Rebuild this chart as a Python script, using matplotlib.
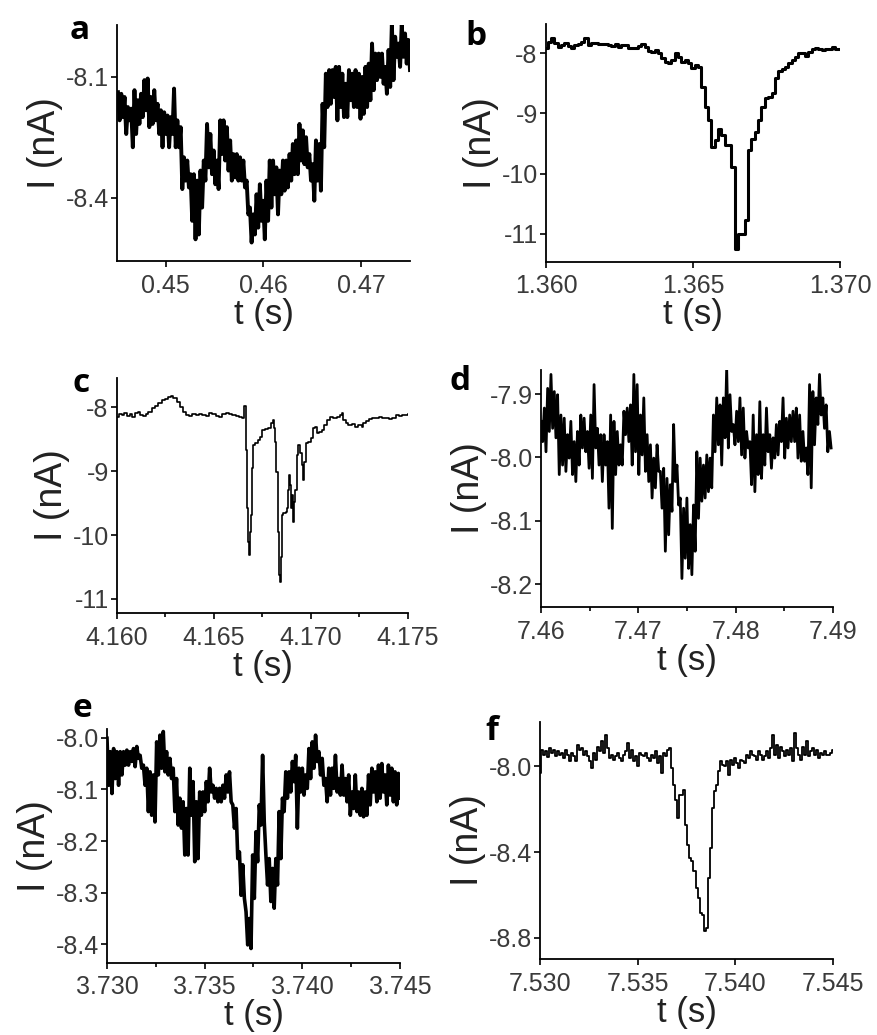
import numpy as np
import matplotlib
matplotlib.use('Agg')
import matplotlib.pyplot as plt
from matplotlib.ticker import MultipleLocator

plt.rcParams['font.family'] = ['Liberation Sans', 'DejaVu Sans']
plt.rcParams['axes.unicode_minus'] = False

# ---- panel a : 0.445 - 0.475 s, noisy trace (alternating upper / lower excursions)
I_a = [-8.138,-8.208, -8.142,-8.200, -8.150,-8.242, -8.175,-8.208, -8.179,-8.275,
       -8.133,-8.242, -8.158,-8.217, -8.142,-8.200, -8.108,-8.183, -8.104,-8.225,
       -8.150,-8.217, -8.133,-8.208, -8.167,-8.242, -8.183,-8.275, -8.188,-8.242,
       -8.196,-8.275, -8.200,-8.242, -8.129,-8.275, -8.208,-8.275, -8.225,-8.379,
       -8.300,-8.358, -8.308,-8.375, -8.342,-8.458, -8.342,-8.504, -8.358,-8.492,
       -8.333,-8.425, -8.308,-8.358, -8.217,-8.325, -8.242,-8.342, -8.283,-8.367,
       -8.308,-8.379, -8.208,-8.292, -8.208,-8.308, -8.225,-8.333, -8.258,-8.358,
       -8.292,-8.350, -8.292,-8.358, -8.300,-8.358, -8.308,-8.375, -8.358,-8.442,
       -8.425,-8.512, -8.442,-8.492, -8.392,-8.475, -8.367,-8.458, -8.408,-8.504,
       -8.358,-8.458, -8.308,-8.425, -8.308,-8.392, -8.325,-8.442, -8.333,-8.392,
       -8.308,-8.383, -8.308,-8.375, -8.292,-8.358, -8.267,-8.342, -8.258,-8.342,
       -8.217,-8.308, -8.233,-8.317, -8.250,-8.325, -8.292,-8.358, -8.317,-8.408,
       -8.258,-8.358, -8.267,-8.383, -8.167,-8.275, -8.092,-8.175, -8.083,-8.167,
       -8.083,-8.150, -8.075,-8.208, -8.075,-8.175, -8.092,-8.200, -8.117,-8.200,
       -8.083,-8.158, -8.092,-8.175, -8.083,-8.175, -8.092,-8.204, -8.100,-8.192,
       -8.075,-8.175, -8.067,-8.158, -8.017,-8.133, -8.042,-8.108, -8.042,-8.100,
       -8.042,-8.117, -8.075,-8.142, -8.033,-8.125, -7.967,-8.108, -8.000,-8.050,
       -8.017,-8.075, -7.967,-8.050, -7.992,-8.067, -8.008,-8.083]
t_a = np.linspace(0.4451, 0.4750, len(I_a))

# ---- panel b : 1.360 - 1.370 s
I_b = [-7.917, -7.806, -7.750, -7.833, -7.889, -7.861, -7.822, -7.878, -7.917, -7.861,
       -7.844, -7.806, -7.750, -7.861, -7.822, -7.833, -7.844, -7.844, -7.844, -7.861,
       -7.878, -7.844, -7.900, -7.861, -7.861, -7.917, -7.917, -7.917, -7.878, -7.844,
       -7.900, -7.956, -7.972, -7.944, -8.000, -8.083, -8.139, -8.167, -8.111, -8.000,
       -8.056, -8.139, -8.111, -8.167, -8.250, -8.194, -8.222, -8.556, -8.889, -9.111,
       -9.556, -9.444, -9.250, -9.361, -9.528, -9.528, -9.889, -11.250, -11.000, -11.000,
       -10.778, -9.611, -9.417, -9.306, -9.111, -8.889, -8.750, -8.722, -8.667, -8.417,
       -8.289, -8.267, -8.222, -8.167, -8.111, -8.056, -8.000, -8.000, -8.044, -7.972,
       -7.933, -7.917, -7.933, -7.944, -7.933, -7.933, -7.900, -7.933, -7.933]
t_b = np.linspace(1.3600, 1.3700, len(I_b))

# ---- panel c : 4.160 - 4.175 s (two deep blockades)
t_c = [4.16000, 4.16010, 4.16024, 4.16038, 4.16052, 4.16065, 4.16079, 4.16093, 4.16107, 4.16120,
       4.16134, 4.16148, 4.16161, 4.16179, 4.16196, 4.16213, 4.16230, 4.16247, 4.16265, 4.16278,
       4.16290, 4.16308, 4.16325, 4.16342, 4.16354, 4.16371, 4.16388, 4.16405, 4.16423, 4.16440,
       4.16457, 4.16474, 4.16491, 4.16509, 4.16526, 4.16543, 4.16560, 4.16577, 4.16594, 4.16612,
       4.16629, 4.16646, 4.16653, 4.16656, 4.16663, 4.16670, 4.16673, 4.16680, 4.16685, 4.16691,
       4.16694, 4.16701, 4.16711, 4.16725, 4.16735, 4.16746, 4.16763, 4.16780, 4.16794, 4.16802,
       4.16807, 4.16814, 4.16821, 4.16828, 4.16833, 4.16837, 4.16840, 4.16844, 4.16849, 4.16857,
       4.16869, 4.16876, 4.16880, 4.16885, 4.16890, 4.16897, 4.16900, 4.16907, 4.16911, 4.16917,
       4.16926, 4.16935, 4.16943, 4.16952, 4.16957, 4.16962, 4.16972, 4.16986, 4.17000, 4.17012,
       4.17020, 4.17029, 4.17041, 4.17055, 4.17069, 4.17081, 4.17098, 4.17115, 4.17132, 4.17149,
       4.17158, 4.17167, 4.17179, 4.17192, 4.17209, 4.17227, 4.17244, 4.17261, 4.17270, 4.17282,
       4.17299, 4.17316, 4.17333, 4.17350, 4.17368, 4.17385, 4.17402, 4.17419, 4.17437, 4.17453,
       4.17471, 4.17488, 4.17500]
I_c = [-8.146, -8.110, -8.120, -8.094, -8.131, -8.110, -8.146, -8.094, -8.068, -8.120,
       -8.131, -8.110, -8.068, -8.016, -7.974, -7.937, -7.885, -7.869, -7.833, -7.817,
       -7.859, -7.911, -7.990, -8.068, -8.120, -8.131, -8.110, -8.120, -8.110, -8.120,
       -8.131, -8.094, -8.110, -8.131, -8.146, -8.110, -8.094, -8.110, -8.120, -8.131,
       -8.146, -8.162, -8.042, -7.974, -8.668, -9.582, -10.104, -10.313, -9.948, -9.687,
       -8.956, -8.590, -8.564, -8.512, -8.460, -8.355, -8.339, -8.329, -8.251, -8.198,
       -8.329, -8.538, -9.008, -9.948, -10.209, -10.627, -10.731, -10.339, -9.687, -9.661,
       -9.634, -9.582, -9.295, -9.060, -9.217, -9.582, -9.373, -9.791, -9.478, -9.295,
       -8.747, -8.590, -8.721, -8.903, -9.138, -8.851, -8.564, -8.538, -8.486, -8.329,
       -8.303, -8.407, -8.381, -8.355, -8.277, -8.198, -8.146, -8.162, -8.146, -8.120,
       -8.094, -8.198, -8.251, -8.277, -8.266, -8.303, -8.277, -8.303, -8.251, -8.214,
       -8.183, -8.162, -8.162, -8.146, -8.172, -8.162, -8.183, -8.172, -8.120, -8.131,
       -8.120, -8.120, -8.110]

# ---- panel d : 7.46 - 7.49 s
I_d = [-7.943,-7.975, -7.922,-7.991, -7.891,-7.959, -7.869,-7.954, -7.896,-7.969,
       -7.901,-8.027, -7.933,-8.012, -7.938,-8.022, -7.964,-8.001, -7.943,-8.027,
       -7.975,-8.038, -7.959,-8.012, -7.933,-7.985, -7.938,-7.991, -7.959,-8.017,
       -7.933,-8.033, -7.885,-7.985, -7.954,-8.012, -7.964,-8.038, -7.964,-8.012,
       -7.975,-8.080, -7.933,-8.112, -7.943,-8.027, -7.959,-8.012, -7.980,-8.012,
       -7.927,-7.964, -7.922,-7.975, -7.917,-8.012, -7.869,-7.991, -7.885,-8.027,
       -7.933,-7.996, -7.906,-8.022, -7.964,-8.038, -7.980,-8.064, -8.001,-8.048,
       -7.980,-8.022, -8.022,-8.080, -8.017,-8.148, -8.033,-8.122, -8.043,-8.085,
       -7.948,-8.038, -8.012,-8.075, -8.064,-8.191, -8.080,-8.159, -8.064,-8.175,
       -8.106,-8.185, -8.075,-8.148, -7.991,-8.096, -8.001,-8.069, -8.012,-8.064,
       -7.996,-8.054, -8.001,-8.048, -7.933,-7.991, -7.906,-7.980, -7.917,-8.012,
       -7.906,-7.969, -7.859,-7.985, -7.901,-7.959, -7.948,-7.980, -7.927,-7.975,
       -7.906,-7.996, -7.922,-8.001, -7.959,-7.985, -7.975,-8.043, -7.933,-8.054,
       -7.964,-8.027, -7.912,-8.033, -7.964,-8.012, -7.922,-7.991, -7.964,-8.017,
       -7.969,-8.001, -7.948,-7.996, -7.943,-7.975, -7.906,-8.001, -7.938,-7.985,
       -7.933,-7.975, -7.927,-7.975, -7.922,-8.001, -7.933,-8.006, -7.959,-8.006,
       -7.985,-8.027, -7.885,-8.048, -7.896,-7.980, -7.906,-7.948, -7.869,-7.933,
       -7.906,-7.954, -7.917,-7.991, -7.959,-7.985]
t_d = np.linspace(7.4600, 7.4898, len(I_d))

# ---- panel e : 3.730 - 3.745 s
I_e = [-8.001,-8.092, -8.027,-8.108, -8.021,-8.079, -8.027,-8.092, -8.027,-8.072,
       -8.027,-8.053, -8.024,-8.053, -8.027,-8.046, -8.021,-8.056, -8.017,-8.040,
       -8.034,-8.059, -8.053,-8.092, -8.059,-8.143, -8.066,-8.150, -8.072,-8.163,
       -8.008,-8.072, -7.995,-8.059, -7.988,-8.066, -8.027,-8.072, -8.040,-8.079,
       -8.059,-8.143, -8.079,-8.169, -8.117,-8.175, -8.124,-8.227, -8.137,-8.227,
       -8.059,-8.150, -8.085,-8.240, -8.124,-8.234, -8.105,-8.150, -8.105,-8.143,
       -8.085,-8.124, -8.059,-8.105, -8.092,-8.117, -8.098,-8.124, -8.098,-8.124,
       -8.092,-8.117, -8.072,-8.105, -8.066,-8.124, -8.130,-8.175, -8.137,-8.234,
       -8.221,-8.305, -8.246,-8.311, -8.337,-8.401, -8.350,-8.408, -8.227,-8.311,
       -8.182,-8.240, -8.130,-8.169, -8.034,-8.163, -8.227,-8.285, -8.234,-8.317,
       -8.253,-8.330, -8.234,-8.285, -8.143,-8.234, -8.117,-8.143, -8.066,-8.117,
       -8.066,-8.105, -8.046,-8.085, -8.034,-8.175, -8.059,-8.105, -8.059,-8.111,
       -8.072,-8.098, -8.021,-8.079, -8.008,-8.059, -7.995,-8.046, -8.027,-8.072,
       -8.040,-8.092, -8.079,-8.124, -8.059,-8.111, -8.059,-8.098, -8.034,-8.105,
       -8.079,-8.111, -8.053,-8.111, -8.079,-8.124, -8.072,-8.150, -8.105,-8.137,
       -8.072,-8.143, -8.105,-8.150, -8.098,-8.153, -8.105,-8.150, -8.072,-8.130,
       -8.059,-8.105, -8.066,-8.124, -8.053,-8.117, -8.050,-8.105, -8.072,-8.130,
       -8.053,-8.111, -8.059,-8.124, -8.066,-8.130, -8.069,-8.117]
t_e = np.linspace(3.7300, 3.7450, len(I_e))

# ---- panel f : 7.530 - 7.545 s
I_f = [-8.033, -7.924, -7.947, -7.932, -7.960, -7.916, -7.940, -7.924, -7.955, -7.932,
       -7.947, -7.940, -7.963, -7.924, -7.947, -7.978, -7.940, -7.955, -7.978, -7.901,
       -7.924, -7.916, -7.947, -7.932, -7.955, -7.978, -8.009, -7.940, -7.971, -7.909,
       -7.932, -7.885, -7.940, -7.854, -7.916, -7.963, -7.947, -7.971, -7.955, -7.940,
       -7.963, -7.978, -7.947, -7.932, -7.893, -7.963, -7.924, -7.978, -7.955, -8.002,
       -7.940, -7.947, -7.955, -7.940, -7.963, -7.978, -7.947, -7.963, -7.932, -7.986,
       -7.955, -8.033, -7.940, -7.955, -7.924, -7.916, -8.009, -8.087, -8.157, -8.242,
       -8.133, -8.133, -8.110, -8.273, -8.366, -8.428, -8.443, -8.490, -8.567, -8.614,
       -8.684, -8.691, -8.769, -8.753, -8.521, -8.381, -8.195, -8.118, -8.087, -8.025,
       -7.978, -7.994, -8.002, -7.978, -8.040, -7.971, -7.994, -7.963, -7.986, -8.009,
       -7.971, -7.978, -7.986, -7.947, -7.963, -7.932, -7.947, -7.955, -7.971, -7.932,
       -7.947, -7.971, -7.955, -7.932, -7.963, -7.916, -7.854, -7.947, -7.901, -7.963,
       -7.909, -7.932, -7.955, -7.924, -7.947, -7.916, -7.978, -7.847, -7.916, -7.947,
       -7.971, -7.909, -7.947, -7.885, -7.955, -7.932, -7.916, -7.947, -7.924, -7.963,
       -7.940, -7.947, -7.932, -7.947, -7.947, -7.940, -7.924]
t_f = np.linspace(7.5300, 7.5450, len(I_f))


fig = plt.figure(figsize=(8.77, 10.35), dpi=100)


def style(ax, xlim, ylim, xticks, xlabels, yticks, ylabels, minor=None):
    ax.set_xlim(xlim)
    ax.set_ylim(ylim)
    ax.set_xticks(xticks, xlabels)
    ax.set_yticks(yticks, ylabels)
    ax.spines['top'].set_visible(False)
    ax.spines['right'].set_visible(False)
    ax.spines['left'].set_linewidth(1.3)
    ax.spines['bottom'].set_linewidth(1.3)
    ax.tick_params(direction='out', length=4, width=1.2, labelsize=18,
                   labelcolor='#3a3a3a')
    ax.tick_params(axis='x', pad=5)
    ax.tick_params(axis='y', pad=2)
    if minor:
        ax.xaxis.set_minor_locator(MultipleLocator(minor))
        ax.tick_params(which='minor', direction='out', length=3, width=1.2)
    ax.set_xlabel('t (s)', fontsize=25, labelpad=0, color='#222222')
    ax.set_ylabel('I (nA)', fontsize=27, labelpad=2, color='#222222')


ax = fig.add_axes([0.1334, 0.7478, 0.3341, 0.2280])
ax.plot(t_a, I_a, color='black', lw=2.8)
style(ax, (0.445, 0.475), (-8.558, -7.971), [0.45, 0.46, 0.47], ['0.45', '0.46', '0.47'],
      [-8.4, -8.1], ['-8.4', '-8.1'])

ax = fig.add_axes([0.6226, 0.7469, 0.3352, 0.2300])
ax.plot(t_b, I_b, color='black', lw=2.2, drawstyle='steps-mid')
style(ax, (1.360, 1.370), (-11.47, -7.51), [1.360, 1.365, 1.370], ['1.360', '1.365', '1.370'],
      [-11, -10, -9, -8], ['-11', '-10', '-9', '-8'])

ax = fig.add_axes([0.1334, 0.4077, 0.3318, 0.2271])
ax.plot(t_c, I_c, color='black', lw=1.2, drawstyle='steps-post')
style(ax, (4.160, 4.175), (-11.22, -7.54), [4.160, 4.165, 4.170, 4.175],
      ['4.160', '4.165', '4.170', '4.175'],
      [-11, -10, -9, -8], ['-11', '-10', '-9', '-8'], minor=0.0025)

ax = fig.add_axes([0.6169, 0.4135, 0.3330, 0.2290])
ax.plot(t_d, I_d, color='black', lw=2.0)
style(ax, (7.46, 7.49), (-8.236, -7.862), [7.46, 7.47, 7.48, 7.49], ['7.46', '7.47', '7.48', '7.49'],
      [-8.2, -8.1, -8.0, -7.9], ['-8.2', '-8.1', '-8.0', '-7.9'], minor=0.005)

ax = fig.add_axes([0.1220, 0.0696, 0.3341, 0.2261])
ax.plot(t_e, I_e, color='black', lw=2.6)
style(ax, (3.730, 3.745), (-8.436, -7.983), [3.730, 3.735, 3.740, 3.745],
      ['3.730', '3.735', '3.740', '3.745'],
      [-8.4, -8.3, -8.2, -8.1, -8.0], ['-8.4', '-8.3', '-8.2', '-8.1', '-8.0'], minor=0.0025)

ax = fig.add_axes([0.6157, 0.0734, 0.3341, 0.2290])
ax.plot(t_f, I_f, color='black', lw=1.3, drawstyle='steps-mid')
style(ax, (7.530, 7.545), (-8.898, -7.795), [7.530, 7.535, 7.540, 7.545],
      ['7.530', '7.535', '7.540', '7.545'],
      [-8.8, -8.4, -8.0], ['-8.8', '-8.4', '-8.0'])

# panel letters
for x, y, s in [(0.0798, 0.9623, 'a'), (0.5302, 0.9565, 'b'), (0.0821, 0.6213, 'c'),
                (0.5131, 0.6232, 'd'), (0.0821, 0.3072, 'e'), (0.5530, 0.2850, 'f')]:
    fig.text(x, y, s, fontsize=24, fontweight='bold', family=['Open Sans', 'DejaVu Sans'],
             ha='left', va='baseline')

plt.savefig('out.png', dpi=100)
